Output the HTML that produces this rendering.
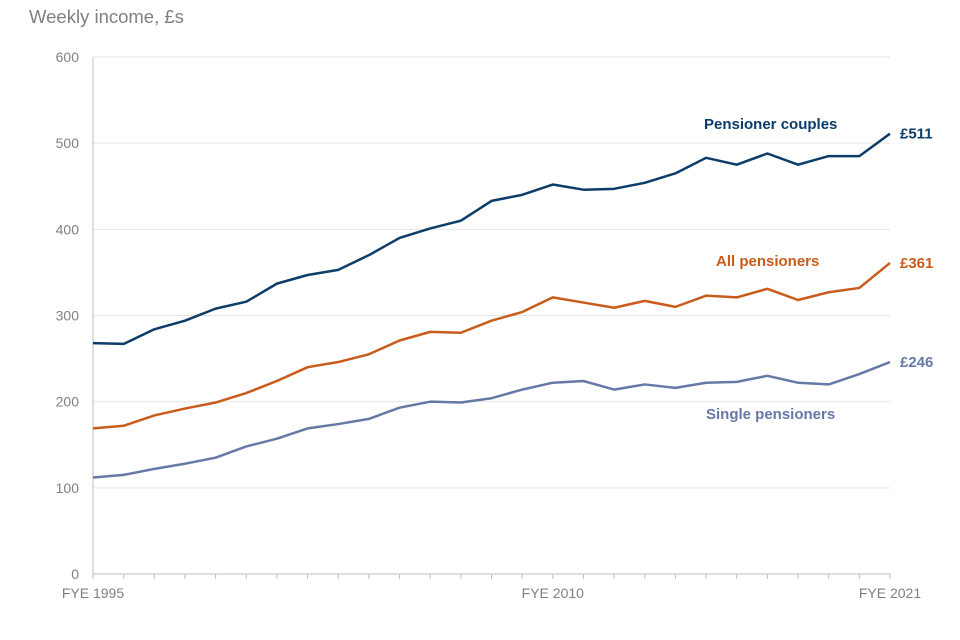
<!DOCTYPE html>
<html><head><meta charset="utf-8"><style>
body{margin:0;background:#fff;}
svg{display:block;font-family:"Liberation Sans",sans-serif;}
</style></head><body>
<svg id="chart" width="960" height="640"></svg>
<script>
const years = [];
for (let y = 1995; y <= 2021; y++) years.push(y);
const couples = [268,267,284,294,308,316,337,347,353,370,390,401,410,433,440,452,446,447,454,465,483,475,488,475,485,485,511];
const allPens = [169,172,184,192,199,210,224,240,246,255,271,281,280,294,304,321,315,309,317,310,323,321,331,318,327,332,361];
const single = [112,115,122,128,135,148,157,169,174,180,193,200,199,204,214,222,224,214,220,216,222,223,230,222,220,232,246];
const yTicks = [0,100,200,300,400,500,600];
const xLabels = [[1995,"FYE 1995"],[2010,"FYE 2010"],[2021,"FYE 2021"]];

const svg = document.getElementById('chart');
const NS = 'http://www.w3.org/2000/svg';
const x0 = 93, x1 = 890, yb = 574, yt = 57;
const xs = y => x0 + (y - 1995) / (2021 - 1995) * (x1 - x0);
const ys = v => yb - v / 600 * (yb - yt);
function mk(tag, attrs, text){
  const e = document.createElementNS(NS, tag);
  for (const k in attrs) e.setAttribute(k, attrs[k]);
  if (text !== undefined) e.textContent = text;
  svg.appendChild(e);
  return e;
}
let t = mk('text', {x:29, y:23, 'font-size':18.5, fill:'#808080'}, 'Weekly income, £s');


yTicks.forEach(v => {
  if (v > 0) {
    const g = mk('line', {x1:x0, x2:x1, y1:ys(v), y2:ys(v), stroke:'#e6e6e6', 'stroke-width':1});
    
    
  }
  const l = mk('text', {x:79, y:ys(v)+5, 'font-size':14, fill:'#808080', 'text-anchor':'end'}, String(v));
  
  
});
let ax = mk('line', {x1:x0, x2:x0, y1:yt, y2:yb, stroke:'#bfbfbf'});


let bx = mk('line', {x1:x0, x2:x1, y1:yb, y2:yb, stroke:'#bfbfbf'});


years.forEach(y => {
  const tk = mk('line', {x1:xs(y), x2:xs(y), y1:yb, y2:yb+5, stroke:'#bfbfbf'});
  
  
});
xLabels.forEach(([y, s]) => {
  const l = mk('text', {x:xs(y), y:598, 'font-size':14, fill:'#808080', 'text-anchor':'middle'}, s);
  
  
});
function series(data, color, name, label, lx, ly){
  const p = mk('polyline', {points: data.map((v,i)=>xs(years[i])+','+ys(v)).join(' '), fill:'none', stroke:color, 'stroke-width':2.5, 'stroke-linejoin':'round'});
  
  
  const l = mk('text', {x:lx, y:ly, 'font-size':15, 'font-weight':'bold', fill:color}, label);
  
  
  const e = mk('text', {x:900, y:ys(data[data.length-1])+5, 'font-size':15, 'font-weight':'bold', fill:color}, '£' + data[data.length-1]);
  
  
}
series(couples, '#0c3c68', 'pensioner-couples', 'Pensioner couples', 704, 129);
series(allPens, '#c95b1b', 'all-pensioners', 'All pensioners', 716, 266);
series(single, '#6679a6', 'single-pensioners', 'Single pensioners', 706, 419);
</script>
</body></html>
